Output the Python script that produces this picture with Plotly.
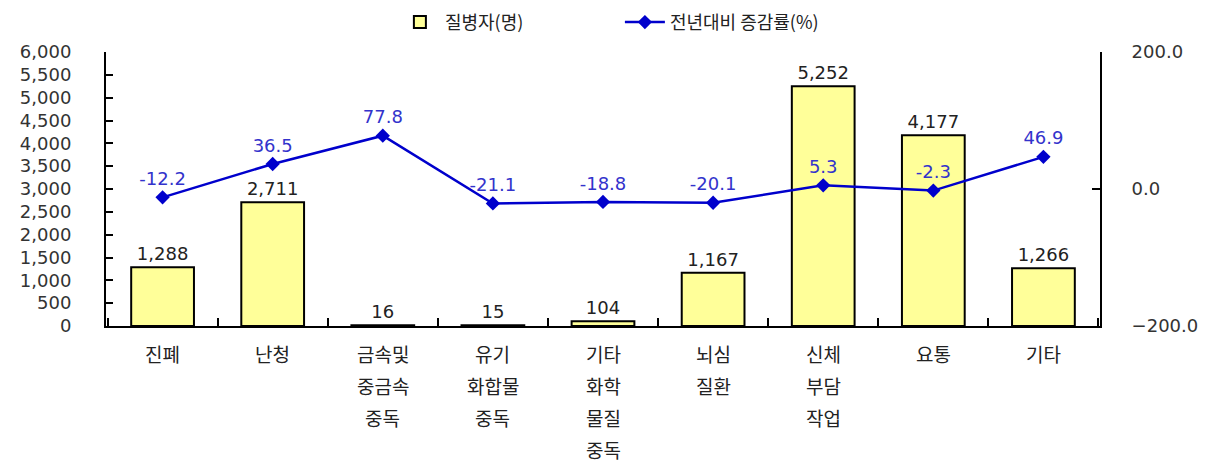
import plotly.graph_objects as go

categories = ["진폐", "난청", "금속및\n중금속\n중독", "유기\n화합물\n중독", "기타\n화학\n물질\n중독",
              "뇌심\n질환", "신체\n부담\n작업", "요통", "기타"]
patients = [1288, 2711, 16, 15, 104, 1167, 5252, 4177, 1266]
change_rate = [-12.2, 36.5, 77.8, -21.1, -18.8, -20.1, 5.3, -2.3, 46.9]

FONT = "DejaVu Sans, Noto Sans CJK KR, sans-serif"
KFONT = "Noto Sans CJK KR, sans-serif"

fig = go.Figure()
fig.add_trace(go.Bar(
    x=categories, y=patients, name="질병자(명)",
    marker=dict(color="#FFFF99", line=dict(color="black", width=2)),
    width=0.57,
    text=[f"{v:,}" for v in patients], textposition="outside",
    textfont=dict(color="#222222", size=18, family=FONT),
    cliponaxis=False,
))
fig.add_trace(go.Scatter(
    x=categories, y=change_rate, name="전년대비 증감률(%)", yaxis="y2",
    mode="lines+markers+text",
    line=dict(color="#0000CC", width=2.5),
    marker=dict(symbol="diamond", size=11, color="#0000CC"),
    text=[f"{v:.1f}" for v in change_rate], textposition="top center",
    textfont=dict(color="#3333CC", size=18, family=FONT),
    cliponaxis=False,
))

# category labels drawn at the x-axis category positions, one line each
for cat in categories:
    for i, line in enumerate(cat.split("\n")):
        fig.add_annotation(x=cat, xref="x", y=0, yref="paper", yanchor="middle",
                           yshift=-27 - 32 * i, text=line, showarrow=False,
                           font=dict(size=19, family=KFONT, color="#222222"))

fig.update_layout(
    width=1209, height=469,
    margin=dict(l=98, r=117, t=44, b=151, autoexpand=False),
    paper_bgcolor="white", plot_bgcolor="white",
    font=dict(family=FONT, size=16, color="#222222"),
    showlegend=True,
    legend=dict(orientation="h", x=0.517, xanchor="center", y=1.108, yanchor="middle",
                font=dict(size=18, family=KFONT, color="#222222"), itemwidth=40,
                entrywidth=170, bgcolor="rgba(0,0,0,0)"),
    xaxis=dict(showline=True, linecolor="black", linewidth=2, ticks="inside",
               tickson="boundaries", ticklen=8, tickcolor="black", tickwidth=2,
               showticklabels=False, showgrid=False),
    yaxis=dict(range=[0, 6000], dtick=500, tickformat=",d", showline=True,
               linecolor="black", linewidth=2, ticks="inside", ticklen=7,
               tickcolor="black", tickwidth=2, showgrid=False, zeroline=False,
               ticklabelstandoff=29,
               tickfont=dict(size=18, family=FONT, color="#333333")),
    yaxis2=dict(range=[-200, 200], dtick=200, tickformat=".1f", overlaying="y",
                side="right", showline=True, linecolor="black", linewidth=2,
                ticks="inside", ticklen=8, tickcolor="black", tickwidth=2,
                showgrid=False, zeroline=False, ticklabelstandoff=26,
                tickfont=dict(size=18, family=FONT, color="#333333")),
)

fig.write_html("out.html")
